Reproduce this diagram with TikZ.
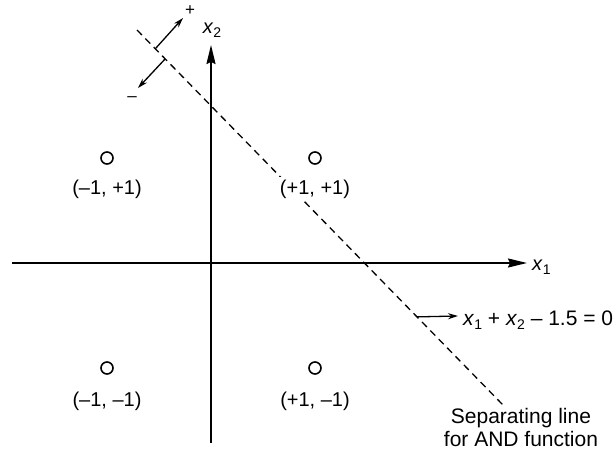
\documentclass[tikz,border=0pt]{standalone}
\usepackage{fontspec}
\setmainfont{Liberation Sans}
\usetikzlibrary{arrows.meta,calc}
\newcommand\xv[1]{\textit{x}\raisebox{-0.4ex}{\fontsize{14}{14}\selectfont #1}}
\begin{document}
\begin{tikzpicture}[x=1pt,y=-1pt,
  axis/.style={line width=1.8pt,-{Stealth[length=19pt,width=9pt,inset=2pt]}},
  pt/.style={circle,draw,line width=1.6pt,minimum size=12pt,inner sep=0pt},
  lbl/.style={font=\fontsize{20}{22}\selectfont,inner sep=1pt},
  norm/.style={line width=1.3pt,-{Stealth[length=10pt,width=6pt]}},
  sep/.style={line width=1.3pt,dash pattern=on 7pt off 5pt}]
\useasboundingbox (0,0) rectangle (614,452);
% axes
\coordinate (xl) at (12,263);
\coordinate (xr) at (527,263);
\coordinate (yb) at (211,443);
\coordinate (yt) at (211,45);
\draw[axis] (xl) -- (xr);
\draw[axis] (yb) -- (yt);
\node[lbl,anchor=west] (x1) at (531,267) {\xv{1}};
\node[lbl] (x2) at (212,30) {\xv{2}};
% separating line
\coordinate (s0) at (137,30);
\coordinate (s1) at (503,405);
\draw[sep] (s0) -- (s1);
% points
\node[pt] (p1) at (107,158) {};
\node[pt] (p2) at (315,158) {};
\node[pt] (p3) at (107,368) {};
\node[pt] (p4) at (315,368) {};
\node[lbl] (l1) at (107,189) {(\textendash1, +1)};
\node[lbl,fill=white,inner sep=3pt] (l2) at (315,189) {(+1, +1)};
\node[lbl] (l3) at (107,401) {(\textendash1, \textendash1)};
\node[lbl] (l4) at (315,401) {(+1, \textendash1)};
% normal arrows
\coordinate (a0) at ($(s0)!0.05!(s1)$);
\coordinate (b0) at ($(s0)!0.077!(s1)$);
\coordinate (a1) at (183,18);
\coordinate (b1) at (138,88);
\draw[norm] (a0) -- (a1);
\draw[norm] (b0) -- (b1);
\node[lbl,font=\fontsize{17}{18}\selectfont] (plus) at (190,11) {+};
\node[lbl,font=\fontsize{17}{18}\selectfont] (minus) at (132,99) {\textendash};
% equation
\coordinate (e0) at ($(s0)!0.765!(s1)$);
\coordinate (e1) at (458,316);
\draw[norm] (e0) -- (e1);
\node[lbl,anchor=west,font=\fontsize{21}{22}\selectfont] (eq) at (462,320) {\xv{1} + \xv{2} \textendash\ 1.5 = 0};
\node[lbl,align=center,font=\fontsize{21}{23}\selectfont] (cap) at (521,427) {Separating line\\for AND function};
\end{tikzpicture}
\end{document}
